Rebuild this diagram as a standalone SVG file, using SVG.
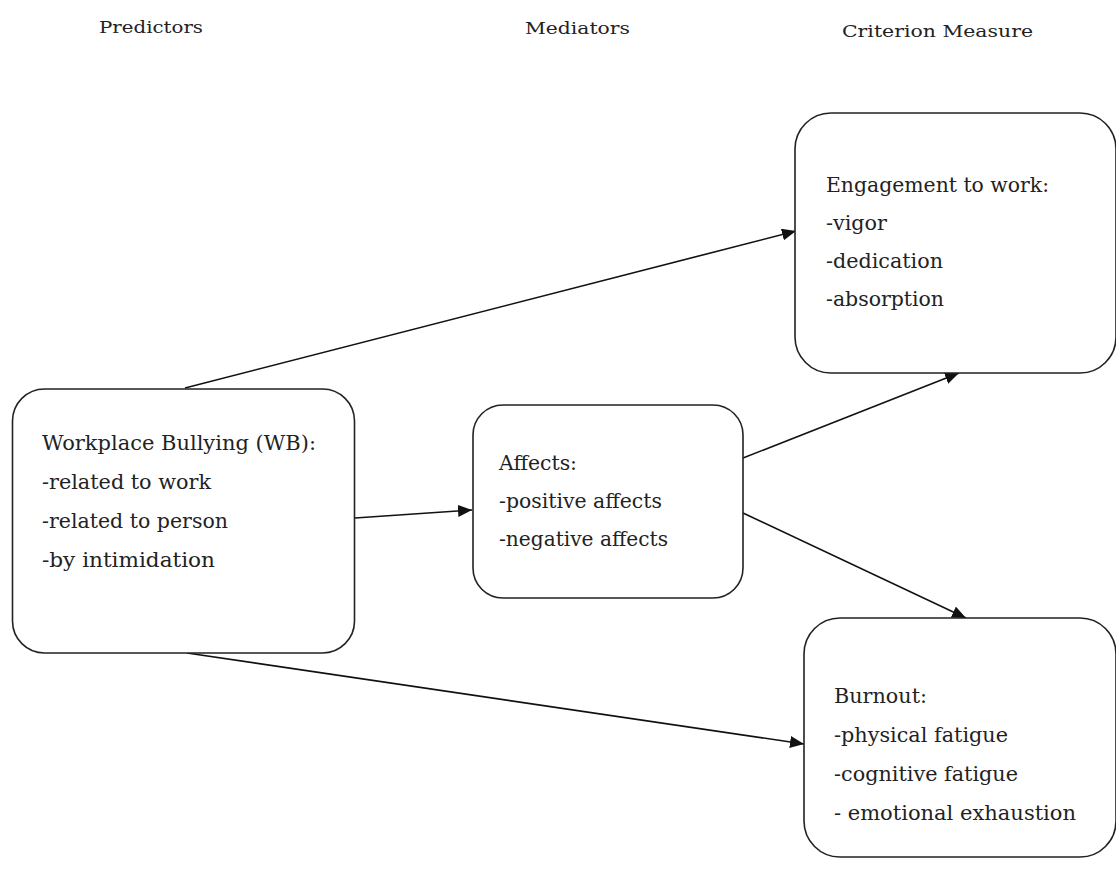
<svg xmlns="http://www.w3.org/2000/svg" width="1116" height="886" viewBox="0 0 1116 886">
<style>
.box{fill:#fff;stroke:#222;stroke-width:1.6}
.t{font-family:"DejaVu Serif","Liberation Serif",serif;font-size:20px;fill:#222}
.h{font-family:"DejaVu Serif","Liberation Serif",serif;font-size:17px;fill:#222}
.c{stroke:#111;stroke-width:1.6;fill:none;marker-end:url(#ah)}
</style>
<defs>
<marker id="ah" markerUnits="userSpaceOnUse" markerWidth="15" markerHeight="13" refX="14" refY="6" orient="auto">
<path d="M0,0 L14,6 L0,12 Z" fill="#111"/>
</marker>
</defs>
<rect width="1116" height="886" fill="#fff"/>
<g id="headers">
<text class="h" x="99" y="33" textLength="104" lengthAdjust="spacingAndGlyphs">Predictors</text>
<text class="h" x="525" y="34" textLength="105" lengthAdjust="spacingAndGlyphs">Mediators</text>
<text class="h" x="842" y="37" textLength="191" lengthAdjust="spacingAndGlyphs">Criterion Measure</text>
</g>
<g id="connectors">
<line class="c" x1="185" y1="388" x2="796" y2="231"/>
<line class="c" x1="355" y1="518" x2="472" y2="510"/>
<line class="c" x1="743" y1="458" x2="959" y2="373"/>
<line class="c" x1="743" y1="513" x2="966" y2="618"/>
<line class="c" x1="187" y1="653" x2="804" y2="744"/>
</g>
<g id="wb">
<rect class="box" x="12.5" y="389" width="342" height="264" rx="32" ry="32"/>
<text class="t" x="42" y="450" textLength="274" lengthAdjust="spacingAndGlyphs">Workplace Bullying (WB):</text>
<text class="t" x="42" y="489" textLength="169" lengthAdjust="spacingAndGlyphs">-related to work</text>
<text class="t" x="42" y="528" textLength="186" lengthAdjust="spacingAndGlyphs">-related to person</text>
<text class="t" x="42" y="567" textLength="173" lengthAdjust="spacingAndGlyphs">-by intimidation</text>
</g>
<g id="affects">
<rect class="box" x="473" y="405" width="270" height="193" rx="30" ry="30"/>
<text class="t" x="499" y="470" textLength="78" lengthAdjust="spacingAndGlyphs">Affects:</text>
<text class="t" x="499" y="508" textLength="163" lengthAdjust="spacingAndGlyphs">-positive affects</text>
<text class="t" x="499" y="546" textLength="169" lengthAdjust="spacingAndGlyphs">-negative affects</text>
</g>
<g id="engagement">
<rect class="box" x="795" y="113" width="321" height="260" rx="36" ry="36"/>
<text class="t" x="826" y="192" textLength="223" lengthAdjust="spacingAndGlyphs">Engagement to work:</text>
<text class="t" x="826" y="230" textLength="61" lengthAdjust="spacingAndGlyphs">-vigor</text>
<text class="t" x="826" y="268" textLength="117" lengthAdjust="spacingAndGlyphs">-dedication</text>
<text class="t" x="826" y="306" textLength="118" lengthAdjust="spacingAndGlyphs">-absorption</text>
</g>
<g id="burnout">
<rect class="box" x="804" y="618" width="312" height="239" rx="36" ry="36"/>
<text class="t" x="834" y="703" textLength="93" lengthAdjust="spacingAndGlyphs">Burnout:</text>
<text class="t" x="834" y="742" textLength="174" lengthAdjust="spacingAndGlyphs">-physical fatigue</text>
<text class="t" x="834" y="781" textLength="184" lengthAdjust="spacingAndGlyphs">-cognitive fatigue</text>
<text class="t" x="834" y="820" textLength="242" lengthAdjust="spacingAndGlyphs">- emotional exhaustion</text>
</g>
</svg>
